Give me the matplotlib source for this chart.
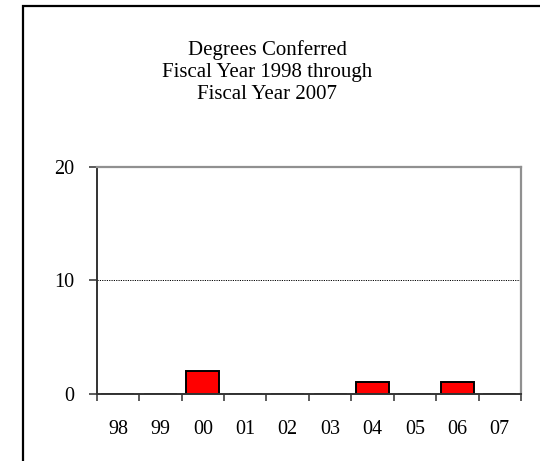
import matplotlib
matplotlib.use('Agg')
import numpy as np
import matplotlib.pyplot as plt
from matplotlib.patches import Rectangle
from matplotlib.ticker import FixedLocator

# ------------------------------ data -------------------------------------
YEARS   = ['98', '99', '00', '01', '02', '03', '04', '05', '06', '07']
DEGREES = [0, 0, 2, 0, 0, 0, 1, 0, 1, 0]
Y_TICKS = [0, 10, 20]
TITLE   = 'Degrees Conferred\nFiscal Year 1998 through\nFiscal Year 2007'
# -------------------------------------------------------------------------

plt.rcParams['font.family'] = ['Liberation Serif', 'DejaVu Serif']
FS = 14.5

W, H = 540, 461
fig = plt.figure(figsize=(W / 100, H / 100), dpi=100)
fig.patch.set_facecolor('white')

# outer frame (runs off the right and bottom edges)
fig.patches.append(Rectangle((22.5 / W, -0.05), 1.2, 1 - 6 / H + 0.05,
                             transform=fig.transFigure, fill=False,
                             edgecolor='black', lw=1.6))

ax = fig.add_axes([96.7 / W, 1 - 393.7 / H, (521 - 96.7) / W, (393.7 - 166.7) / H])
x = np.arange(len(YEARS))
ax.bar(x, DEGREES, width=0.78, color='#FF0000', edgecolor='black', lw=1.4, zorder=2)

ax.set_xlim(-0.5, len(YEARS) - 0.5)
ax.set_ylim(0, 20)
ax.axhline(10, color='black', lw=0.7, ls=(0, (1.2, 1.2)), zorder=1)

ax.set_xticks(x)
ax.set_xticklabels(YEARS, fontsize=FS)
ax.tick_params(axis='x', which='major', length=0, pad=19)
ax.xaxis.set_minor_locator(FixedLocator(np.arange(-0.5, len(YEARS), 1.0)))
ax.tick_params(axis='x', which='minor', length=5, width=1.2, color='#404040', direction='out')

ax.set_yticks(Y_TICKS)
ax.set_yticklabels([str(v) for v in Y_TICKS], fontsize=FS)
ax.tick_params(axis='y', length=6, width=1.2, color='#404040', pad=10)

ax.spines['left'].set_color('#333333')
ax.spines['bottom'].set_color('#333333')
ax.spines['left'].set_linewidth(1.4)
ax.spines['bottom'].set_linewidth(1.4)
ax.spines['top'].set_color('#909090')
ax.spines['right'].set_color('#909090')
ax.spines['top'].set_linewidth(1.6)
ax.spines['right'].set_linewidth(1.6)
for sp in ax.spines.values():
    sp.set_zorder(3)

fig.text(267 / W, 1 - 72 / H, TITLE, ha='center', va='center',
         fontsize=15, linespacing=1.2)

fig.savefig('out.png', dpi=100, facecolor='white')
